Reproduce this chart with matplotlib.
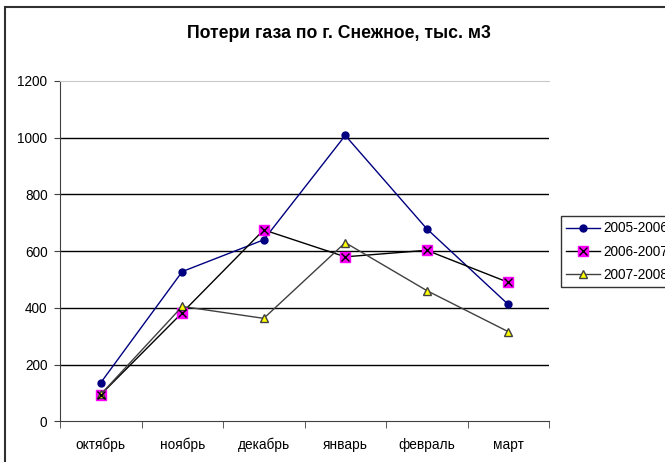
import matplotlib.pyplot as plt
from matplotlib.patches import Rectangle
from matplotlib.lines import Line2D

# monthly gas losses, thousand m3
months = ['октябрь', 'ноябрь', 'декабрь', 'январь', 'февраль', 'март']
s2005 = [136, 528, 640, 1008, 679, 412]
s2006 = [94, 383, 675, 580, 603, 490]
s2007 = [95, 405, 363, 630, 461, 316]
yticks = [0, 200, 400, 600, 800, 1000, 1200]

plt.rcParams['font.family'] = ['Liberation Sans', 'DejaVu Sans']

W, H = 665, 462
fig = plt.figure(figsize=(W / 100, H / 100), dpi=100)
fig.patch.set_facecolor('white')

# outer chart frame (cut by the image on the right and bottom)
fig.patches.append(Rectangle((5 / W, -0.1), 1.2, 1 - 7 / H + 0.1,
                             transform=fig.transFigure, fill=False,
                             edgecolor='#303030', linewidth=1.5))

ax = fig.add_axes([60 / W, (H - 421.3) / H, (549 - 60) / W, (421.3 - 81) / H])
x = list(range(len(months)))

for v in yticks[1:-1]:
    ax.axhline(v, color='black', linewidth=1, zorder=1)

ax.plot(x, s2005, color='#000080', linewidth=1, marker='o', markersize=5,
        markerfacecolor='#000080', markeredgecolor='#000080', zorder=3)
sq, = ax.plot(x, s2006, color='black', linewidth=1, marker='s', markersize=7.5,
              markerfacecolor='#ff00ff', markeredgecolor='#ff00ff', zorder=3)
xm, = ax.plot(x, s2006, linestyle='none', marker='x', markersize=6,
              markeredgecolor='black', markeredgewidth=1, zorder=4)
ax.plot(x, s2007, color='#404040', linewidth=1, marker='^', markersize=6,
        markerfacecolor='#ffff00', markeredgecolor='#404040', zorder=3)

ax.set_xlim(-0.5, len(months) - 0.5)
ax.set_ylim(0, 1200)
ax.set_yticks(yticks)
ax.set_xticks(x)
ax.set_xticklabels(months)
ax.set_xticks([i - 0.5 for i in range(len(months) + 1)], minor=True)
ax.tick_params(axis='x', which='major', length=0, pad=12, labelsize=9.8)
ax.tick_params(axis='x', which='minor', length=5, direction='out', color='#404040')
ax.tick_params(axis='y', length=4, direction='out', color='#404040', pad=5, labelsize=9.8)

ax.spines['right'].set_visible(False)
ax.spines['top'].set_color('#c8c8c8')
ax.spines['left'].set_color('#404040')
ax.spines['bottom'].set_color('#404040')

fig.text(339 / W, 1 - 33 / H, 'Потери газа по г. Снежное, тыс. м3',
         ha='center', va='center', fontsize=12.7, fontweight='bold')

h1 = Line2D([], [], color='#000080', linewidth=1, marker='o', markersize=5,
            markerfacecolor='#000080', markeredgecolor='#000080')
h3 = Line2D([], [], color='#404040', linewidth=1, marker='^', markersize=6,
            markerfacecolor='#ffff00', markeredgecolor='#404040')
leg = fig.legend([h1, (sq, xm), h3], ['2005-2006', '2006-2007', '2007-2008'],
                 loc='upper left', bbox_to_anchor=(561 / W, 1 - 216 / H),
                 bbox_transform=fig.transFigure, fontsize=9.8, frameon=True,
                 fancybox=False, borderaxespad=0, handlelength=2.5,
                 handletextpad=0.2, labelspacing=0.68, borderpad=0.4)
leg.get_frame().set_edgecolor('black')
leg.get_frame().set_linewidth(1)

fig.savefig('out.png', dpi=100)
